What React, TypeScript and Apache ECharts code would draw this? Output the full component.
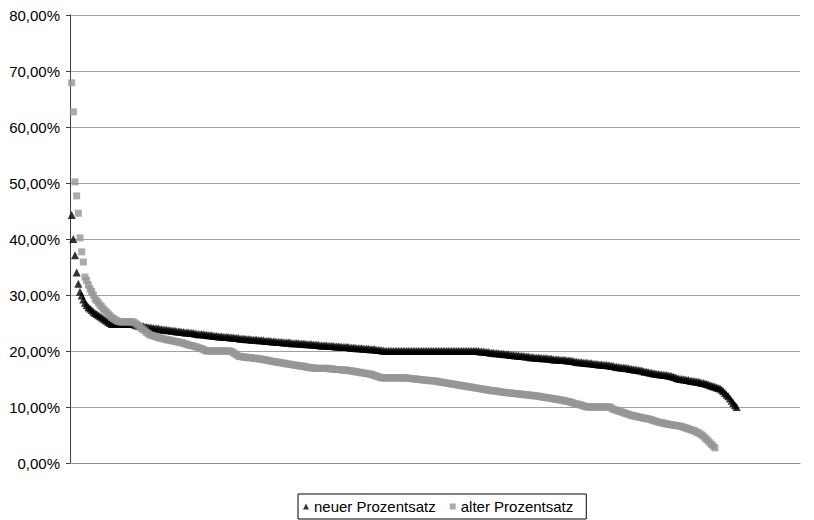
import React, { useEffect, useRef } from "react";
import * as echarts from "echarts";

const seriesNames = ["neuer Prozentsatz", "alter Prozentsatz"];
const yMin = 0;
const yMax = 80;
const yStep = 10;
const rankMax = 438;

// neuer Prozentsatz, sorted descending, rank 1..400 (percent)
const neuerProzentsatz = [
  44.3, 40.0, 37.1, 34.0, 32.0, 30.6, 29.9, 29.2, 28.6, 28.2, 27.8, 27.6, 27.3, 27.0, 26.8, 26.6, 26.4, 26.2, 26.0, 25.8,
  25.6, 25.4, 25.2, 25.0, 24.8, 24.8, 24.8, 24.8, 24.8, 24.8, 24.8, 24.8, 24.8, 24.8, 24.8, 24.8, 24.8, 24.8, 24.7, 24.6,
  24.5, 24.5, 24.4, 24.4, 24.3, 24.3, 24.2, 24.2, 24.1, 24.1, 24.0, 24.0, 24.0, 23.9, 23.9, 23.8, 23.8, 23.8, 23.7, 23.7,
  23.6, 23.6, 23.6, 23.5, 23.5, 23.5, 23.4, 23.4, 23.3, 23.3, 23.3, 23.2, 23.2, 23.2, 23.1, 23.1, 23.0, 23.0, 23.0, 23.0,
  22.9, 22.9, 22.8, 22.8, 22.8, 22.7, 22.7, 22.7, 22.6, 22.6, 22.6, 22.5, 22.5, 22.5, 22.5, 22.4, 22.4, 22.4, 22.3, 22.3,
  22.3, 22.2, 22.2, 22.2, 22.2, 22.1, 22.1, 22.1, 22.0, 22.0, 22.0, 22.0, 21.9, 21.9, 21.9, 21.9, 21.8, 21.8, 21.8, 21.8,
  21.7, 21.7, 21.7, 21.6, 21.6, 21.6, 21.6, 21.5, 21.5, 21.5, 21.5, 21.5, 21.4, 21.4, 21.4, 21.4, 21.4, 21.3, 21.3, 21.3,
  21.3, 21.2, 21.2, 21.2, 21.2, 21.1, 21.1, 21.1, 21.1, 21.0, 21.0, 21.0, 21.0, 21.0, 20.9, 20.9, 20.9, 20.9, 20.8, 20.8,
  20.8, 20.8, 20.7, 20.7, 20.7, 20.7, 20.7, 20.6, 20.6, 20.6, 20.6, 20.5, 20.5, 20.5, 20.5, 20.4, 20.4, 20.4, 20.4, 20.3,
  20.3, 20.3, 20.3, 20.2, 20.2, 20.2, 20.1, 20.1, 20.0, 20.0, 20.0, 20.0, 20.0, 20.0, 20.0, 20.0, 20.0, 20.0, 20.0, 20.0,
  20.0, 20.0, 20.0, 20.0, 20.0, 20.0, 20.0, 20.0, 20.0, 20.0, 20.0, 20.0, 20.0, 20.0, 20.0, 20.0, 20.0, 20.0, 20.0, 20.0,
  20.0, 20.0, 20.0, 20.0, 20.0, 20.0, 20.0, 20.0, 20.0, 20.0, 20.0, 20.0, 20.0, 20.0, 20.0, 20.0, 20.0, 20.0, 20.0, 20.0,
  20.0, 20.0, 20.0, 20.0, 20.0, 19.9, 19.9, 19.9, 19.8, 19.8, 19.8, 19.7, 19.7, 19.7, 19.6, 19.6, 19.6, 19.5, 19.5, 19.5,
  19.4, 19.4, 19.4, 19.3, 19.3, 19.3, 19.2, 19.2, 19.2, 19.1, 19.1, 19.1, 19.0, 19.0, 19.0, 18.9, 18.9, 18.9, 18.8, 18.8,
  18.8, 18.8, 18.7, 18.7, 18.7, 18.7, 18.6, 18.6, 18.6, 18.5, 18.5, 18.5, 18.5, 18.4, 18.4, 18.4, 18.4, 18.3, 18.3, 18.3,
  18.2, 18.2, 18.1, 18.1, 18.0, 18.0, 18.0, 17.9, 17.9, 17.9, 17.8, 17.8, 17.8, 17.7, 17.7, 17.7, 17.6, 17.6, 17.6, 17.5,
  17.5, 17.5, 17.4, 17.4, 17.3, 17.3, 17.2, 17.2, 17.1, 17.1, 17.0, 17.0, 17.0, 16.9, 16.9, 16.8, 16.8, 16.7, 16.7, 16.6,
  16.6, 16.5, 16.5, 16.4, 16.3, 16.3, 16.2, 16.1, 16.1, 16.0, 16.0, 15.9, 15.9, 15.8, 15.8, 15.7, 15.7, 15.7, 15.6, 15.6,
  15.5, 15.4, 15.3, 15.2, 15.1, 15.0, 15.0, 14.9, 14.9, 14.8, 14.8, 14.7, 14.7, 14.6, 14.6, 14.5, 14.5, 14.4, 14.3, 14.3,
  14.2, 14.1, 14.0, 13.9, 13.8, 13.7, 13.6, 13.5, 13.4, 13.3, 13.1, 12.8, 12.5, 12.2, 11.9, 11.5, 11.1, 10.7, 10.3, 10.0,
];

// alter Prozentsatz, sorted descending, rank 1..387 (percent)
const alterProzentsatz = [
  67.9, 62.7, 50.2, 47.7, 44.6, 40.2, 37.7, 35.9, 33.2, 32.6, 31.8, 31.1, 30.6, 30.0, 29.3, 29.0, 28.6, 28.2, 27.9, 27.5,
  27.2, 26.9, 26.6, 26.3, 26.0, 25.8, 25.6, 25.4, 25.3, 25.2, 25.2, 25.2, 25.2, 25.2, 25.2, 25.2, 25.2, 25.2, 25.0, 24.8,
  24.5, 24.3, 24.0, 23.8, 23.6, 23.3, 23.1, 22.9, 22.8, 22.7, 22.6, 22.5, 22.4, 22.3, 22.3, 22.2, 22.1, 22.0, 22.0, 21.9,
  21.9, 21.8, 21.7, 21.7, 21.6, 21.5, 21.5, 21.4, 21.3, 21.2, 21.1, 21.0, 21.0, 20.9, 20.8, 20.7, 20.6, 20.5, 20.4, 20.3,
  20.1, 20.0, 20.0, 20.0, 20.0, 20.0, 20.0, 20.0, 20.0, 20.0, 20.0, 20.0, 20.0, 20.0, 20.0, 20.0, 19.9, 19.7, 19.5, 19.3,
  19.1, 19.0, 19.0, 18.9, 18.9, 18.9, 18.8, 18.8, 18.8, 18.7, 18.7, 18.7, 18.6, 18.6, 18.5, 18.5, 18.4, 18.4, 18.3, 18.2,
  18.2, 18.1, 18.1, 18.0, 18.0, 17.9, 17.9, 17.8, 17.8, 17.7, 17.7, 17.6, 17.6, 17.5, 17.5, 17.4, 17.4, 17.3, 17.3, 17.3,
  17.2, 17.1, 17.1, 17.0, 17.0, 17.0, 16.9, 16.9, 16.9, 16.9, 16.9, 16.9, 16.9, 16.9, 16.9, 16.8, 16.8, 16.8, 16.7, 16.7,
  16.7, 16.7, 16.6, 16.6, 16.6, 16.6, 16.5, 16.5, 16.4, 16.4, 16.3, 16.3, 16.2, 16.2, 16.1, 16.1, 16.0, 16.0, 15.9, 15.9,
  15.8, 15.7, 15.6, 15.5, 15.4, 15.3, 15.2, 15.2, 15.2, 15.2, 15.2, 15.2, 15.2, 15.2, 15.2, 15.2, 15.2, 15.2, 15.2, 15.2,
  15.2, 15.2, 15.1, 15.1, 15.1, 15.0, 15.0, 15.0, 14.9, 14.9, 14.9, 14.8, 14.8, 14.8, 14.7, 14.7, 14.7, 14.7, 14.6, 14.6,
  14.5, 14.5, 14.4, 14.4, 14.3, 14.3, 14.2, 14.2, 14.1, 14.1, 14.0, 14.0, 13.9, 13.9, 13.8, 13.8, 13.7, 13.7, 13.6, 13.6,
  13.5, 13.5, 13.4, 13.4, 13.3, 13.3, 13.2, 13.2, 13.1, 13.1, 13.0, 13.0, 12.9, 12.9, 12.9, 12.8, 12.8, 12.7, 12.7, 12.6,
  12.6, 12.6, 12.5, 12.5, 12.5, 12.4, 12.4, 12.4, 12.3, 12.3, 12.3, 12.2, 12.2, 12.2, 12.1, 12.1, 12.1, 12.0, 12.0, 12.0,
  11.9, 11.9, 11.8, 11.8, 11.7, 11.7, 11.6, 11.6, 11.5, 11.5, 11.4, 11.4, 11.3, 11.3, 11.2, 11.2, 11.1, 11.0, 11.0, 10.9,
  10.8, 10.7, 10.6, 10.5, 10.5, 10.4, 10.3, 10.2, 10.1, 10.0, 10.0, 10.0, 10.0, 10.0, 10.0, 10.0, 10.0, 10.0, 10.0, 10.0,
  10.0, 10.0, 10.0, 10.0, 9.8, 9.6, 9.5, 9.4, 9.3, 9.2, 9.1, 9.0, 8.9, 8.8, 8.7, 8.6, 8.5, 8.4, 8.4, 8.3,
  8.2, 8.2, 8.1, 8.0, 8.0, 7.9, 7.9, 7.8, 7.7, 7.6, 7.5, 7.4, 7.3, 7.2, 7.2, 7.1, 7.0, 7.0, 6.9, 6.9,
  6.8, 6.8, 6.7, 6.7, 6.6, 6.6, 6.5, 6.4, 6.3, 6.2, 6.1, 6.0, 5.9, 5.8, 5.7, 5.5, 5.4, 5.2, 5.0, 4.8,
  4.5, 4.2, 3.9, 3.6, 3.3, 3.0, 2.7,
];

const FONT = "'Liberation Sans', Arial, Helvetica, sans-serif";

export default function App() {
  const ref = useRef<HTMLDivElement>(null);

  useEffect(() => {
    if (!ref.current) return;
    const chart = echarts.init(ref.current, null, { renderer: "svg" });
    const toPairs = (arr: number[]) => arr.map((v, i) => [i + 1, v]);
    chart.setOption({
      animation: false,
      backgroundColor: "#ffffff",
      textStyle: { fontFamily: FONT },
      grid: { left: 70, right: 14, top: 15, bottom: 57, containLabel: false },
      xAxis: {
        type: "value",
        min: 0,
        max: rankMax,
        axisLine: { show: true, lineStyle: { color: "#8c8c8c", width: 1 } },
        axisTick: { show: false },
        axisLabel: { show: false },
        splitLine: { show: false },
      },
      yAxis: {
        type: "value",
        min: yMin,
        max: yMax,
        interval: yStep,
        axisLine: { show: true, lineStyle: { color: "#404040", width: 1 } },
        axisTick: { show: true, length: 4, inside: false, lineStyle: { color: "#404040" } },
        axisLabel: {
          color: "#000000",
          fontSize: 15,
          fontFamily: FONT,
          margin: 10,
          formatter: (v: number) => v.toFixed(2).replace(".", ",") + "%",
        },
        splitLine: { show: true, lineStyle: { color: "#a0a0a0", width: 1 } },
      },
      legend: {
        left: 298,
        bottom: 1,
        orient: "horizontal",
        borderColor: "#000000",
        borderWidth: 1,
        padding: [5, 13, 5, 5],
        itemWidth: 6,
        itemHeight: 6,
        itemGap: 14,
        textStyle: { fontSize: 15, color: "#000000", fontFamily: FONT },
        data: [
          { name: seriesNames[0], icon: "triangle" },
          { name: seriesNames[1], icon: "rect" },
        ],
      },
      series: [
        {
          name: seriesNames[0],
          type: "scatter",
          symbol: "triangle",
          symbolSize: 8,
          itemStyle: { color: "#000000" },
          data: toPairs(neuerProzentsatz),
        },
        {
          name: seriesNames[1],
          type: "scatter",
          symbol: "rect",
          symbolSize: 7,
          itemStyle: { color: "#969696" },
          data: toPairs(alterProzentsatz),
        },
      ],
    });
    return () => chart.dispose();
  }, []);

  return (
    <div
      ref={ref}
      style={{ position: "absolute", left: 0, top: 0, width: 814, height: 520 }}
    />
  );
}
